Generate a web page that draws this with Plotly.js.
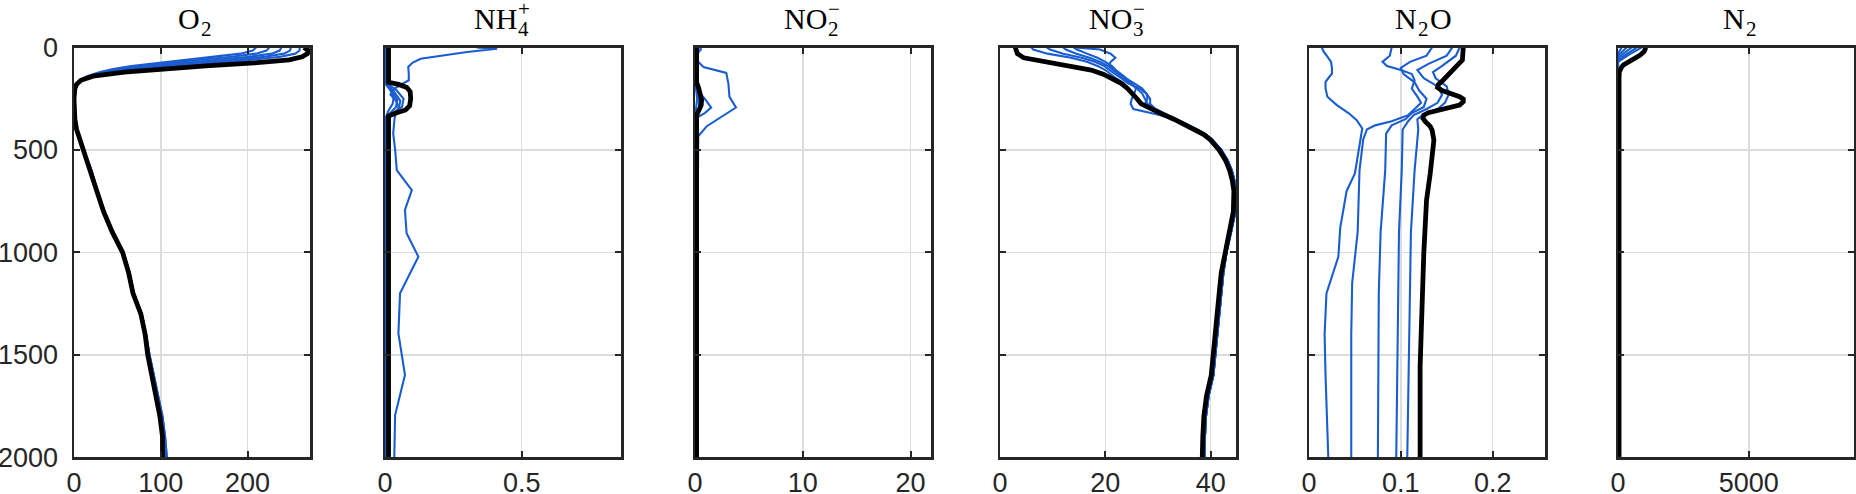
<!DOCTYPE html>
<html>
<head>
<meta charset="utf-8">
<script src="https://cdn.plot.ly/plotly-3.0.1.min.js"></script>
<style>
  html, body { margin: 0; padding: 0; background: #fff; }
  #chart { width: 1856px; height: 494px; }
</style>
</head>
<body>
<div id="chart"></div>
<script>
// profiles vs depth (m). five blue snapshots + final state in black.

// ── O2 ──
const o2Depth = [0, 15, 30, 45, 60, 75, 90, 105, 120, 140, 160, 180, 200, 250, 300, 350, 400, 450, 500,
  600, 700, 800, 900, 1000, 1100, 1200, 1300, 1400, 1500, 1600, 1700, 1800, 1900, 2000];
const o2Blue1 = [210, 206, 192, 160, 125, 92, 66, 45, 30, 15, 6, 2, 1, 0, 0.5, 1.5, 3, 7, 11,
  20, 27, 35, 45, 57, 64, 69, 78, 83, 87, 92, 97, 102, 105, 107];
const o2Blue2 = [225, 222, 210, 182, 145, 108, 78, 53, 35, 17, 7, 2, 1, 0, 0.5, 1.5, 3, 7, 11,
  20, 27, 35, 45, 57, 64, 69, 78, 83, 87, 92, 97, 102, 105, 107];
const o2Blue3 = [239, 237, 228, 202, 165, 124, 89, 61, 39, 18, 7, 2, 1, 0, 0.5, 1.5, 3, 7, 11,
  20, 27, 35, 45, 57, 64, 69, 78, 83, 87, 92, 96, 101, 104, 106];
const o2Blue4 = [250, 249, 242, 220, 185, 142, 102, 70, 44, 20, 8, 3, 1, 0, 0.5, 1.5, 3, 7, 11,
  20, 27, 35, 45, 57, 64, 69, 78, 83, 86, 91, 96, 101, 104, 105];
const o2Blue5 = [260, 260, 255, 238, 205, 160, 115, 78, 48, 21, 8, 3, 1, 0, 0.5, 1, 3, 7, 11,
  19, 26, 34, 44, 56, 63, 68, 77, 82, 85, 90, 95, 100, 103, 104];
const o2Final = [265, 270, 269, 263, 248, 208, 152, 104, 58, 22, 8, 3, 1, 0, 0.5, 1, 3, 7, 11,
  19, 26, 34, 44, 56, 63, 68, 77, 82, 85, 90, 94, 99, 102, 102];

// ── NH4+ ──
const nh4Blue1Depth = [0, 6, 22, 38, 55, 75, 95, 130, 160, 180, 200, 230, 260, 290, 320, 345, 420, 497,
  598, 696, 793, 907, 1021, 1200, 1395, 1598, 1794, 2000];
const nh4Blue1 = [0.335, 0.41, 0.30, 0.21, 0.13, 0.10, 0.085, 0.087, 0.087, 0.06, 0.035, 0.02, 0.04, 0.05,
  0.04, 0.035, 0.03, 0.037, 0.043, 0.098, 0.073, 0.079, 0.122, 0.055, 0.049, 0.073, 0.037, 0.034];
const nh4Blue2Depth = [0, 180, 205, 240, 275, 310, 335, 2000];
const nh4Blue2 = [0.005, 0.005, 0.018, 0.032, 0.028, 0.012, 0.005, 0.005];
const nh4Blue3Depth = [0, 185, 215, 255, 290, 320, 340, 2000];
const nh4Blue3 = [0.005, 0.005, 0.025, 0.045, 0.04, 0.02, 0.005, 0.005];
const nh4Blue4Depth = [0, 180, 210, 260, 300, 325, 340, 2000];
const nh4Blue4 = [0.005, 0.005, 0.03, 0.056, 0.05, 0.025, 0.005, 0.005];
const nh4Blue5Depth = [0, 175, 205, 250, 290, 320, 338, 2000];
const nh4Blue5 = [0.005, 0.005, 0.04, 0.068, 0.062, 0.03, 0.005, 0.005];
const nh4FinalDepth = [0, 170, 180, 195, 215, 250, 285, 305, 320, 335, 2000];
const nh4Final = [0.013, 0.013, 0.05, 0.08, 0.092, 0.094, 0.09, 0.075, 0.04, 0.013, 0.013];

// ── NO2- ──
const no2Blue1Depth = [0, 8, 25, 62, 95, 111, 124, 176, 241, 293, 340, 384, 433, 2000];
const no2Blue1 = [0.45, 0.55, 0.3, 0.16, 0.78, 2.0, 2.9, 3.1, 3.2, 3.8, 2.4, 1.1, 0.3, 0.1];
const no2Blue2Depth = [0, 200, 250, 293, 320, 345, 2000];
const no2Blue2 = [0.1, 0.1, 0.9, 1.5, 0.9, 0.1, 0.1];
const no2Blue3Depth = [0, 190, 240, 280, 320, 2000];
const no2Blue3 = [0.05, 0.05, 0.5, 0.7, 0.05, 0.05];
const no2Blue4Depth = [0, 190, 250, 300, 330, 2000];
const no2Blue4 = [0.05, 0.05, 0.35, 0.4, 0.05, 0.05];
const no2Blue5Depth = [0, 180, 250, 320, 2000];
const no2Blue5 = [0.05, 0.05, 0.2, 0.05, 0.05];
const no2FinalDepth = [0, 170, 200, 230, 257, 285, 310, 330, 2000];
const no2Final = [0.15, 0.15, 0.35, 0.55, 0.62, 0.55, 0.35, 0.15, 0.15];

// ── NO3- ──
const no3Depth = [0, 10, 30, 50, 70, 90, 110, 130, 150, 175, 200, 225, 250, 275, 300, 325, 350, 375,
  400, 425, 450, 500, 550, 600, 650, 700, 800, 900, 1000, 1100, 1200, 1300, 1400, 1500, 1600, 1700, 1800, 1900, 2000];
const no3Blue1 = [6.0, 6.3, 9.0, 13.5, 16.5, 18.5, 20.0, 21.0, 22.0, 23.5, 24.5, 25.3, 26.0, 27.0, 29.0, 31.2, 33.4, 35.3,
  37.4, 39.1, 40.3, 42.0, 43.2, 44.0, 44.5, 44.8, 44.7, 43.9, 43.0, 42.4, 42.0, 41.6, 41.2, 40.8, 40.5, 39.6, 39.1, 38.9, 38.8];
const no3Blue2 = [8.9, 9.5, 12.0, 15.5, 18.0, 19.8, 20.8, 21.8, 23.0, 24.3, 26.5, 27.8, 28.5, 28.5, 29.5, 31.5, 33.6, 35.5,
  37.4, 39.1, 40.3, 42.0, 43.2, 44.0, 44.5, 44.8, 44.7, 43.9, 43.0, 42.4, 42.0, 41.6, 41.2, 40.8, 40.5, 39.6, 39.1, 38.9, 38.8];
const no3Blue3 = [12.0, 12.5, 14.5, 17.0, 19.0, 20.5, 21.5, 22.6, 23.8, 25.5, 27.0, 27.8, 28.0, 27.5, 29.0, 31.3, 33.5, 35.4,
  37.4, 39.1, 40.3, 42.0, 43.2, 44.0, 44.5, 44.8, 44.7, 43.9, 43.0, 42.4, 42.0, 41.6, 41.2, 40.8, 40.5, 39.6, 39.1, 38.9, 38.8];
const no3Blue4 = [14.0, 14.6, 16.5, 18.5, 20.0, 21.2, 22.0, 23.0, 24.0, 25.0, 25.8, 25.5, 25.0, 24.8, 25.3, 29.5, 33.2, 35.3,
  37.4, 39.1, 40.3, 42.0, 43.2, 44.0, 44.5, 44.8, 44.7, 43.9, 43.0, 42.4, 42.0, 41.6, 41.2, 40.8, 40.5, 39.6, 39.1, 38.9, 38.8];
const no3Blue5 = [14.3, 19.0, 21.0, 21.9, 21.0, 20.7, 21.5, 22.5, 23.5, 24.8, 26.0, 27.0, 27.5, 28.0, 29.5, 31.5, 33.8, 35.6,
  37.4, 39.1, 40.3, 42.0, 43.2, 44.0, 44.5, 44.8, 44.7, 43.9, 43.0, 42.4, 42.0, 41.6, 41.2, 40.8, 40.5, 39.6, 39.1, 38.9, 38.8];
const no3Final = [2.9, 3.0, 3.3, 4.5, 8.6, 13.8, 17.3, 19.6, 21.2, 23.0, 24.2, 25.2, 26.0, 26.8, 28.6, 30.8, 33.0, 35.0,
  37.0, 38.7, 39.9, 41.6, 42.8, 43.6, 44.1, 44.4, 44.3, 43.5, 42.6, 42.0, 41.6, 41.2, 40.8, 40.4, 40.1, 39.2, 38.7, 38.5, 38.4];

// ── N2O ──
const n2oBlue1Depth = [0, 20, 45, 70, 100, 127, 150, 168, 200, 240, 280, 320, 355, 395, 450, 560, 615, 700,
  880, 1020, 1200, 1400, 1600, 2000];
const n2oBlue1 = [0.014, 0.016, 0.020, 0.024, 0.025, 0.025, 0.021, 0.018, 0.018, 0.020, 0.030, 0.043, 0.052,
  0.058, 0.056, 0.052, 0.050, 0.041, 0.034, 0.032, 0.019, 0.017, 0.018, 0.021];
const n2oBlue2Depth = [0, 40, 70, 90, 110, 130, 160, 200, 240, 270, 300, 330, 360, 380, 400, 450, 600, 900, 1150, 1400, 2000];
const n2oBlue2 = [0.090, 0.088, 0.080, 0.085, 0.100, 0.112, 0.115, 0.112, 0.118, 0.122, 0.115, 0.108, 0.090,
  0.072, 0.063, 0.059, 0.055, 0.053, 0.047, 0.046, 0.046];
const n2oBlue3Depth = [0, 40, 70, 100, 130, 170, 210, 250, 290, 320, 350, 380, 420, 600, 900, 1200, 2000];
const n2oBlue3 = [0.134, 0.128, 0.110, 0.100, 0.103, 0.115, 0.120, 0.128, 0.125, 0.112, 0.105, 0.090, 0.084,
  0.083, 0.078, 0.076, 0.075];
const n2oBlue4Depth = [0, 40, 80, 110, 150, 190, 230, 270, 300, 330, 360, 400, 600, 900, 2000];
const n2oBlue4 = [0.156, 0.150, 0.130, 0.118, 0.125, 0.140, 0.145, 0.140, 0.128, 0.114, 0.108, 0.102, 0.101, 0.098, 0.095];
const n2oBlue5Depth = [0, 40, 90, 120, 150, 190, 230, 270, 300, 325, 350, 400, 600, 900, 2000];
const n2oBlue5 = [0.164, 0.160, 0.145, 0.135, 0.138, 0.150, 0.152, 0.148, 0.140, 0.125, 0.118, 0.119, 0.115, 0.111, 0.107];
const n2oFinalDepth = [0, 30, 62, 80, 100, 127, 160, 180, 195, 210, 225, 240, 252, 265, 281, 295, 306, 318,
  330, 345, 363, 385, 403, 452, 615, 745, 1005, 1233, 1558, 2000];
const n2oFinal = [0.168, 0.168, 0.167, 0.163, 0.159, 0.154, 0.146, 0.141, 0.140, 0.145, 0.155, 0.164, 0.168,
  0.168, 0.164, 0.152, 0.141, 0.130, 0.125, 0.124, 0.127, 0.132, 0.134, 0.136, 0.132, 0.128, 0.125, 0.123, 0.121, 0.121];

// ── N2 ──
const n2Blue1Depth = [0, 15, 30, 2000];
const n2Blue1 = [140, 60, 0, 0];
const n2Blue2Depth = [0, 20, 40, 2000];
const n2Blue2 = [330, 150, 0, 0];
const n2Blue3Depth = [0, 25, 50, 2000];
const n2Blue3 = [520, 240, 0, 0];
const n2Blue4Depth = [0, 30, 60, 2000];
const n2Blue4 = [710, 330, 0, 0];
const n2Blue5Depth = [0, 35, 70, 2000];
const n2Blue5 = [900, 420, 0, 0];
const n2FinalDepth = [0, 20, 38, 55, 70, 85, 95, 107, 119, 150, 2000];
const n2Final = [1066, 1000, 838, 600, 330, 210, 140, 80, 50, 40, 40];

// ── axes ──
const xRanges = [[0, 272], [0, 0.863], [0, 21.9], [0, 44.8], [0, 0.257], [0, 9025]];
const xTicks = [[0, 100, 200], [0, 0.5], [0, 10, 20], [0, 20, 40], [0, 0.1, 0.2], [0, 5000]];
const xTickText = [['0', '100', '200'], ['0', '0.5'], ['0', '10', '20'], ['0', '20', '40'], ['0', '0.1', '0.2'], ['0', '5000']];
const depthTicks = [0, 500, 1000, 1500, 2000];

const panels = [
  { blues: [[o2Depth, o2Blue1], [o2Depth, o2Blue2], [o2Depth, o2Blue3], [o2Depth, o2Blue4], [o2Depth, o2Blue5]],
    final: [o2Depth, o2Final] },
  { blues: [[nh4Blue1Depth, nh4Blue1], [nh4Blue2Depth, nh4Blue2], [nh4Blue3Depth, nh4Blue3], [nh4Blue4Depth, nh4Blue4], [nh4Blue5Depth, nh4Blue5]],
    final: [nh4FinalDepth, nh4Final] },
  { blues: [[no2Blue1Depth, no2Blue1], [no2Blue2Depth, no2Blue2], [no2Blue3Depth, no2Blue3], [no2Blue4Depth, no2Blue4], [no2Blue5Depth, no2Blue5]],
    final: [no2FinalDepth, no2Final] },
  { blues: [[no3Depth, no3Blue1], [no3Depth, no3Blue2], [no3Depth, no3Blue3], [no3Depth, no3Blue4], [no3Depth, no3Blue5]],
    final: [no3Depth, no3Final] },
  { blues: [[n2oBlue1Depth, n2oBlue1], [n2oBlue2Depth, n2oBlue2], [n2oBlue3Depth, n2oBlue3], [n2oBlue4Depth, n2oBlue4], [n2oBlue5Depth, n2oBlue5]],
    final: [n2oFinalDepth, n2oFinal] },
  { blues: [[n2Blue1Depth, n2Blue1], [n2Blue2Depth, n2Blue2], [n2Blue3Depth, n2Blue3], [n2Blue4Depth, n2Blue4], [n2Blue5Depth, n2Blue5]],
    final: [n2FinalDepth, n2Final] },
];

// ── geometry (px) ──
const W = 1856, H = 494;
const PANEL_LEFT = [74, 385, 695, 1000, 1309, 1618];
const PANEL_W = 236;
const PLOT_TOP = 47.5, PLOT_BOTTOM = 457.3;
const BLUE = '#1a5dd0';
const FRAME = '#262626';

const px = (x) => x / W;
const py = (y) => 1 - y / H;

function axName(i, kind) { return kind + (i === 0 ? '' : String(i + 1)); }

const traces = [];
panels.forEach((p, i) => {
  const xa = axName(i, 'x'), ya = axName(i, 'y');
  p.blues.forEach(([d, v]) => traces.push({
    x: v, y: d, xaxis: xa, yaxis: ya, mode: 'lines', hoverinfo: 'skip',
    line: { color: BLUE, width: 2.1 },
  }));
  traces.push({
    x: p.final[1], y: p.final[0], xaxis: xa, yaxis: ya, mode: 'lines', hoverinfo: 'skip',
    line: { color: '#000', width: 4.8 },
  });
});

const tickFont = { family: 'Liberation Sans, Arial, sans-serif', size: 27, color: FRAME };
const common = {
  showline: true, mirror: 'ticks', linecolor: FRAME, linewidth: 2.5,
  ticks: 'inside', ticklen: 6, tickwidth: 2, tickcolor: FRAME,
  showgrid: true, gridcolor: '#dcdcdc', gridwidth: 1.5, zeroline: false,
  tickfont: tickFont, fixedrange: true,
};

const layout = {
  width: W, height: H, margin: { l: 0, r: 0, t: 0, b: 0 },
  paper_bgcolor: '#fff', plot_bgcolor: '#fff', showlegend: false,
  annotations: [],
};

panels.forEach((p, i) => {
  const xKey = 'xaxis' + (i === 0 ? '' : i + 1);
  const yKey = 'yaxis' + (i === 0 ? '' : i + 1);
  layout[xKey] = {
    ...common, domain: [px(PANEL_LEFT[i]), px(PANEL_LEFT[i] + PANEL_W)],
    range: xRanges[i], tickmode: 'array', tickvals: xTicks[i], ticktext: xTickText[i],
    anchor: axName(i, 'y'), ticklabelstandoff: 0,
  };
  layout[yKey] = {
    ...common, domain: [py(PLOT_BOTTOM), py(PLOT_TOP)],
    range: [2000, 0], tickmode: 'array', tickvals: depthTicks,
    ticktext: depthTicks.map(String), showticklabels: i === 0,
    anchor: axName(i, 'x'), ticklabelstandoff: 8,
  };
});

// ── titles (LaTeX-style chemical labels, stacked sub/superscripts) ──
const titleFont = { family: 'Liberation Serif, Times New Roman, serif', size: 30, color: '#000' };
const scriptFont = { family: 'Liberation Serif, Times New Roman, serif', size: 21, color: '#000' };
function label(text, x, y, anchor, font) {
  layout.annotations.push({
    text, x: px(x), y: py(y), xref: 'paper', yref: 'paper',
    xanchor: anchor, yanchor: 'middle', showarrow: false, font,
    borderpad: 0, borderwidth: 0,
  });
}
const titles = [
  { base: 'O', split: 200, sub: '2' },
  { base: 'NH', split: 517, sub: '4', sup: '+' },
  { base: 'NO', split: 827, sub: '2', sup: '\u2212' },
  { base: 'NO', split: 1132, sub: '3', sup: '\u2212' },
  { base: 'N', split: 1417, sub: '2', tail: 'O' },
  { base: 'N', split: 1745, sub: '2' },
];
titles.forEach((t) => {
  label(t.base, t.split, 19, 'right', titleFont);
  label(t.sub, t.split + 1, 29, 'left', scriptFont);
  if (t.sup) label(t.sup, t.split + 1, 9, 'left', scriptFont);
  if (t.tail) label(t.tail, t.split + 13, 19, 'left', titleFont);
});

Plotly.newPlot('chart', traces, layout, { displayModeBar: false, staticPlot: true });
</script>
</body>
</html>
